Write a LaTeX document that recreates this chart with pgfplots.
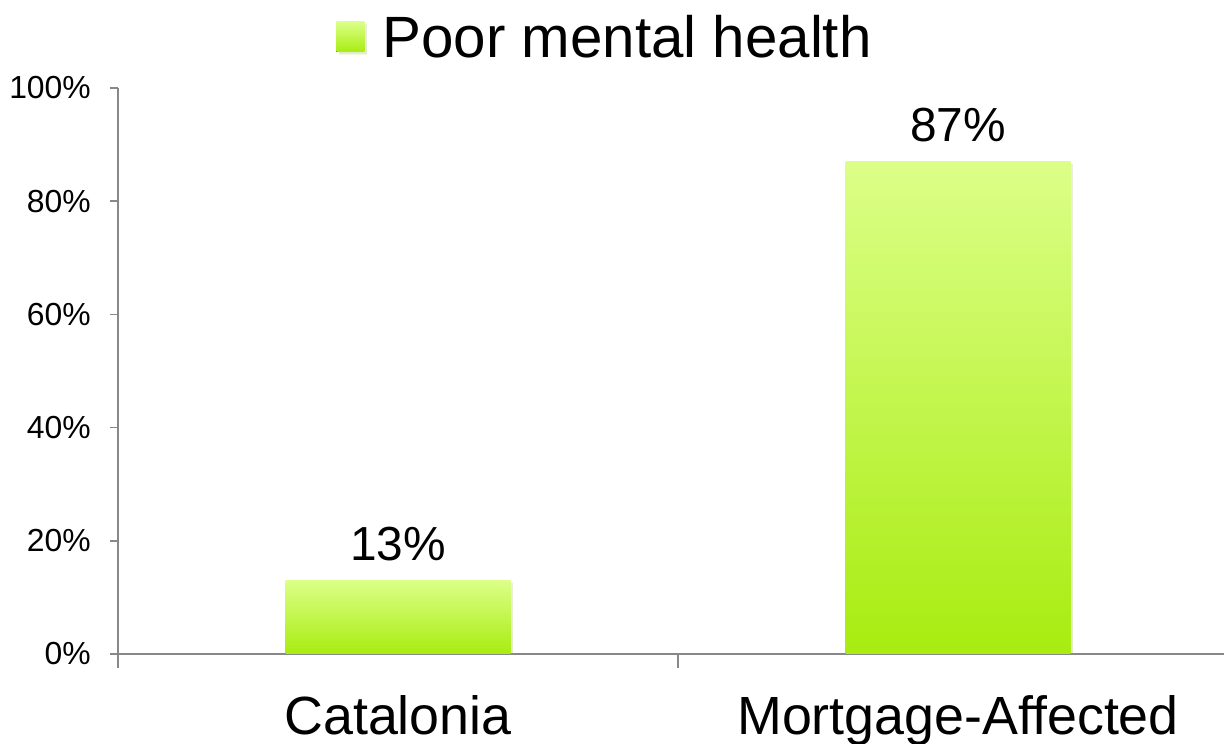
\documentclass[border=0pt]{standalone}
\usepackage{pgfplots}
\pgfplotsset{compat=1.18}
\usepackage{fontspec}
\setmainfont{Liberation Sans}
\usetikzlibrary{shadows}
\definecolor{bartop}{RGB}{220,255,136}
\definecolor{barbot}{RGB}{168,236,16}
\definecolor{axgray}{RGB}{136,136,136}
\begin{document}
\begin{tikzpicture}
\begin{axis}[
  at={(118bp,90bp)}, anchor=south west,
  scale only axis, width=1106bp, height=566bp,
  xmin=0, xmax=1.975, ymin=0, ymax=100,
  axis lines=left,
  axis line style={-, draw=axgray, line width=1.5bp},
  ybar, bar width=225bp, bar shift=0pt,
  ytick={0,20,...,100},
  yticklabel={\pgfmathprintnumber{\tick}\%},
  /pgf/number format/assume math mode=true,
  yticklabel style={font=\fontsize{32}{38}\selectfont, anchor=east, inner sep=0pt, xshift=-19bp},
  tick style={draw=axgray, line width=1.5bp},
  tick align=outside, major tick length=8bp,
  xtick={0.5,1.5}, xticklabels={Catalonia,Mortgage-Affected},
  xtick style={draw=none},
  extra x ticks={0,1}, extra x tick labels={,},
  extra x tick style={major tick length=14bp, xtick style={draw=axgray, line width=1.5bp}},
  xticklabel style={font=\fontsize{54}{60}\selectfont, anchor=north, inner sep=0pt, yshift=-33bp},
  legend style={at={(rel axis cs:0.4395,1)}, anchor=south, yshift=29bp,
    draw=none, fill=none, inner sep=0pt,
    font=\fontsize{58.5}{64}\selectfont,
    nodes={inner sep=0pt},
    /tikz/every odd column/.append style={column sep=18bp}},
  every node near coord/.append style={font=\fontsize{48}{52}\selectfont, text=black, anchor=base, inner sep=0pt, yshift=20bp},
  nodes near coords={\pgfmathprintnumber{\pgfplotspointmeta}\%},
  barstyle/.style={draw=none, top color=bartop, bottom color=barbot,
    drop shadow={shadow xshift=2.5bp, shadow yshift=-2.5bp, opacity=0.15}},
]
\addplot[barstyle,
  legend image code/.code={\fill[top color=bartop,bottom color=barbot] (0bp,-15bp) rectangle (28bp,15bp);}]
  coordinates {(0.5,13)};
\addplot[barstyle, forget plot] coordinates {(1.5,87)};
\legend{Poor mental health}
\end{axis}
\pgfresetboundingbox
\path[use as bounding box] (0,0) rectangle (1224bp,744bp);
\end{tikzpicture}
\end{document}
